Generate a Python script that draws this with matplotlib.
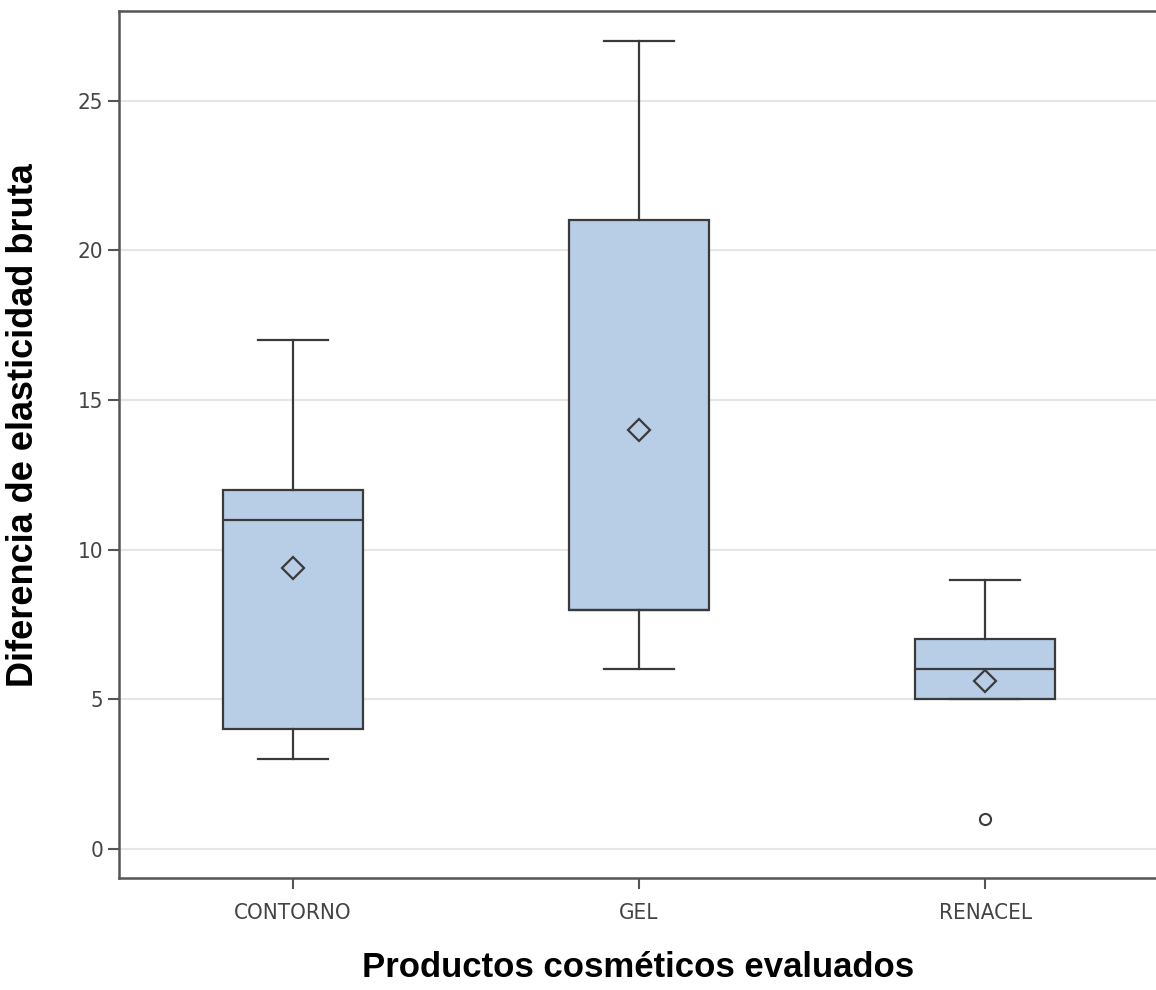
import matplotlib
matplotlib.use('Agg')
import matplotlib.pyplot as plt

# ── Data ──
products = ['CONTORNO', 'GEL', 'RENACEL']
whisk_lo = [3, 6, 5]
q1 = [4, 8, 5]
medians = [11, 8, 6]
q3 = [12, 21, 7]
whisk_hi = [17, 27, 9]
means = [9.4, 14.0, 5.6]
outliers = [[], [], [1]]

BOX_FILL = '#b8cde6'
EDGE = '#3a3a3a'

stats = []
for i, name in enumerate(products):
    stats.append(dict(label=name, whislo=whisk_lo[i], q1=q1[i], med=medians[i],
                      q3=q3[i], whishi=whisk_hi[i], mean=means[i], fliers=outliers[i]))

fig = plt.figure(figsize=(11.56, 9.9), dpi=100)
ax = fig.add_axes([119 / 1156, 1 - 878 / 990, (1158 - 119) / 1156, (878 - 11) / 990])

ax.bxp(stats, positions=range(len(products)), widths=0.405, patch_artist=True,
       showmeans=True, showfliers=True,
       boxprops=dict(facecolor=BOX_FILL, edgecolor=EDGE, linewidth=1.6),
       medianprops=dict(color=EDGE, linewidth=1.6),
       whiskerprops=dict(color=EDGE, linewidth=1.6),
       capprops=dict(color=EDGE, linewidth=1.6),
       capwidths=0.2,
       meanprops=dict(marker='D', markerfacecolor='none', markeredgecolor=EDGE,
                      markeredgewidth=1.6, markersize=11),
       flierprops=dict(marker='o', markerfacecolor='none', markeredgecolor=EDGE,
                       markeredgewidth=1.5, markersize=8))

ax.set_xlim(-0.503, 2.5)
ax.set_ylim(-0.97, 28.0)
ax.set_yticks([0, 5, 10, 15, 20, 25])
ax.yaxis.grid(True, color='#e6e6e6', linewidth=1.5)
ax.set_axisbelow(True)

for s in ['left', 'bottom', 'top']:
    ax.spines[s].set_color('#555555')
    ax.spines[s].set_linewidth(1.8)
ax.spines['right'].set_visible(False)

ax.tick_params(axis='both', colors='#555555', width=1.5, length=8,
               labelcolor='#444444', labelsize=16)
ax.tick_params(axis='x', pad=10)
for lbl in ax.get_xticklabels() + ax.get_yticklabels():
    lbl.set_family('DejaVu Sans')
    lbl.set_stretch('condensed')

ax.set_xlabel('Productos cosméticos evaluados', fontsize=25, fontweight='bold',
              family=['Liberation Sans', 'DejaVu Sans'], labelpad=20)
ax.set_ylabel('Diferencia de elasticidad bruta', fontsize=26, fontweight='bold',
              family=['Liberation Sans', 'DejaVu Sans'])
ax.yaxis.set_label_coords(-0.075, 0.522)

plt.savefig('out.png', dpi=100)
plt.close()
